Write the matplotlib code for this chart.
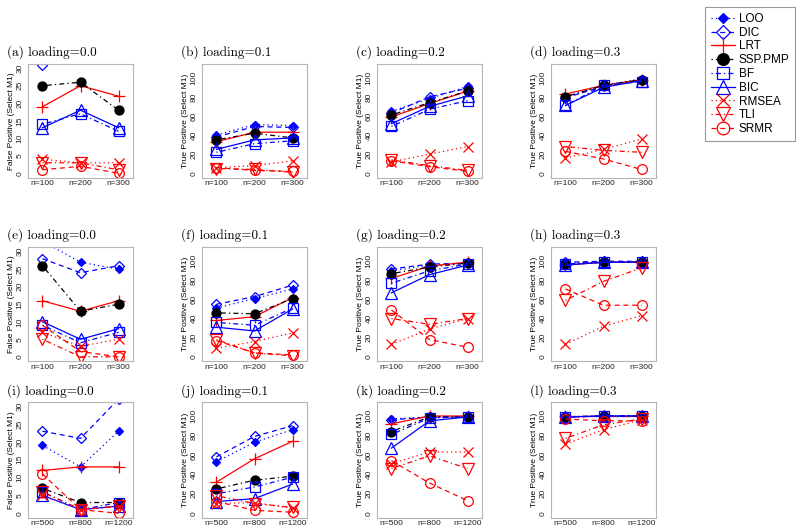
#!/usr/bin/env python
"""Model selection rates (FP / TP) for nine criteria across loadings and sample sizes."""

import matplotlib

matplotlib.use("Agg")
import matplotlib.pyplot as plt
from matplotlib.lines import Line2D

W_PX, H_PX = 800, 532

METHODS = ["LOO", "DIC", "LRT", "SSP.PMP", "BF", "BIC", "RMSEA", "TLI", "SRMR"]
N_SMALL = ["n=100", "n=200", "n=300"]
N_LARGE = ["n=500", "n=800", "n=1200"]
TITLES = [
    "(a) loading=0.0", "(b) loading=0.1", "(c) loading=0.2", "(d) loading=0.3",
    "(e) loading=0.0", "(f) loading=0.1", "(g) loading=0.2", "(h) loading=0.3",
    "(i) loading=0.0", "(j) loading=0.1", "(k) loading=0.2", "(l) loading=0.3",
]

# rows follow METHODS order: LOO, DIC, LRT, SSP.PMP, BF, BIC, RMSEA, TLI, SRMR
PANEL_A = [[38, 40, 36], [31, 35, 33], [19, 25, 22], [25, 26, 18], [14, 17, 12],
           [13, 18, 13], [4, 3, 3], [3, 3, 1], [1, 2, 0]]
PANEL_B = [[40, 51, 50], [38, 49, 48], [33, 43, 43], [35, 42, 37], [22, 31, 34],
           [25, 35, 37], [6, 8, 13], [5, 4, 1], [6, 3, 2]]
PANEL_C = [[65, 78, 91], [63, 80, 89], [59, 73, 86], [61, 74, 86], [49, 67, 76],
           [52, 70, 81], [12, 20, 28], [14, 8, 3], [13, 7, 2]]
PANEL_D = [[80, 92, 99], [79, 91, 98], [83, 92, 98], [80, 92, 98], [71, 92, 96],
           [71, 90, 97], [16, 25, 36], [28, 24, 22], [23, 15, 4]]
PANEL_E = [[33, 27, 25], [28, 24, 26], [16, 13, 16], [26, 13, 15], [9, 4, 7],
           [10, 5, 8], [7, 3, 5], [5, 0, 0], [9, 1.5, 0]]
PANEL_F = [[51, 61, 71], [55, 63, 75], [38, 42, 62], [46, 45, 61], [36, 33, 51],
           [31, 27, 50], [9, 16, 25], [18, 4, 1], [17, 4, 2]]
PANEL_G = [[90, 96, 98], [92, 97, 98], [82, 95, 99], [87, 94, 98], [77, 90, 97],
           [67, 86, 96], [13, 29, 40], [40, 34, 40], [49, 18, 10]]
PANEL_H = [[98, 99, 99], [99, 100, 100], [96, 99, 99], [97, 99, 99], [97, 99, 99],
           [96, 99, 99], [13, 32, 43], [59, 79, 93], [71, 54, 54]]
PANEL_I = [[19, 13, 23], [23, 21, 32], [12, 13, 13], [7, 3, 3], [6, 1, 3],
           [5, 1, 2], [5, 1, 2], [6, 1, 2], [11, 1, 0]]
PANEL_J = [[53, 73, 86], [58, 79, 90], [32, 56, 74], [25, 34, 38], [20, 27, 37],
           [12, 15, 30], [10, 11, 5], [18, 10, 6], [12, 3, 1]]
PANEL_K = [[97, 99, 99], [96, 99, 99], [92, 100, 100], [84, 99, 99], [81, 98, 99],
           [67, 95, 99], [51, 63, 63], [46, 59, 46], [54, 31, 13]]
PANEL_L = [[100, 100, 100], [99, 100, 100], [100, 100, 100], [99, 100, 100], [99, 100, 100],
           [99, 100, 100], [71, 86, 96], [77, 91, 97], [97, 95, 95]]

PANELS = [PANEL_A, PANEL_B, PANEL_C, PANEL_D, PANEL_E, PANEL_F,
          PANEL_G, PANEL_H, PANEL_I, PANEL_J, PANEL_K, PANEL_L]

BLUE, RED, BLACK = "#0000ff", "#ff0000", "#000000"
DOT = (0, (1, 2.5))
DASH = (0, (4, 3))
DOTDASH = (0, (1, 2.5, 4, 2.5))

STYLES = {
    "LOO": dict(color=BLUE, marker="D", ms=4.2, mfc=BLUE, ls=DOT),
    "DIC": dict(color=BLUE, marker="D", ms=5.5, mfc="none", ls=DASH),
    "LRT": dict(color=RED, marker="+", ms=9, mfc=RED, ls="-"),
    "SSP.PMP": dict(color=BLACK, marker="o", ms=6.5, mfc=BLACK, ls=DOTDASH),
    "BF": dict(color=BLUE, marker="s", ms=6.5, mfc="none", ls=DOTDASH),
    "BIC": dict(color=BLUE, marker="^", ms=8, mfc="none", ls="-"),
    "RMSEA": dict(color=RED, marker="x", ms=7, mfc=RED, ls=DOT),
    "TLI": dict(color=RED, marker="v", ms=8, mfc="none", ls=DOTDASH),
    "SRMR": dict(color=RED, marker="o", ms=7, mfc="none", ls=DASH),
}

COL_LEFT = [28, 202, 377, 551]
ROW_TOP = [64, 247.5, 402]
ROW_H = [113.5, 113.5, 115.5]
AX_W = 105
TITLE_Y = [52, 235, 391]

TICK_FONT = "Liberation Sans"


def px_rect(left, top, width, height):
    return [left / W_PX, 1 - (top + height) / H_PX, width / W_PX, height / H_PX]


def draw_panel(fig, idx):
    row, col = divmod(idx, 4)
    ax = fig.add_axes(px_rect(COL_LEFT[col], ROW_TOP[row], AX_W, ROW_H[row]))
    values = PANELS[idx]
    x = [1, 2, 3]
    for name, ys in zip(METHODS, values):
        st = STYLES[name]
        ax.plot(x, ys, color=st["color"], ls=st["ls"], lw=0.9, marker=st["marker"],
                ms=st["ms"], mfc=st["mfc"], mec=st["color"], mew=0.9)

    false_pos = col == 0
    if false_pos:
        ax.set_ylim(-1.2, 31.2)
        ax.set_yticks([0, 5, 10, 15, 20, 25, 30])
        ylabel = "False Positive (Select M1)"
    else:
        ax.set_ylim(-4.4, 114.4)
        ax.set_yticks([0, 20, 40, 60, 80, 100])
        ylabel = "True Positive (Select M1)"
    ax.set_xlim(0.62, 3.38)
    ax.set_xticks(x)
    ax.set_xticklabels(N_LARGE if row == 2 else N_SMALL)
    ax.tick_params(axis="both", length=0, labelsize=6, colors="#222222")
    ax.tick_params(axis="y", pad=3)
    ax.tick_params(axis="x", pad=2)
    for lab in ax.get_yticklabels():
        lab.set_rotation(90)
        lab.set_va("center")
        lab.set_family(TICK_FONT)
    for lab in ax.get_xticklabels():
        lab.set_family(TICK_FONT)
    ax.set_ylabel(ylabel, fontsize=6, family=TICK_FONT, labelpad=1.5)
    for spine in ax.spines.values():
        spine.set_color("#b5b5b5")
        spine.set_linewidth(0.8)

    fig.text((COL_LEFT[col] - 21) / W_PX, 1 - TITLE_Y[row] / H_PX, TITLES[idx],
             family="cmr10", fontsize=9.5, ha="left", va="center")
    return ax


def main():
    fig = plt.figure(figsize=(W_PX / 100, H_PX / 100), dpi=100)
    for idx in range(12):
        draw_panel(fig, idx)

    handles = []
    for name in METHODS:
        st = STYLES[name]
        handles.append(Line2D([0], [0], color=st["color"], ls=st["ls"], lw=0.9,
                              marker=st["marker"], ms=st["ms"] * 1.3, mfc=st["mfc"],
                              mec=st["color"], mew=0.9))
    leg = fig.legend(handles, METHODS, loc="upper left",
                     bbox_to_anchor=(705 / W_PX, 1 - 7 / H_PX), borderaxespad=0,
                     prop={"family": TICK_FONT, "size": 8.5}, handlelength=2.0,
                     handletextpad=0.35, labelspacing=0.15, borderpad=0.5,
                     fancybox=False, framealpha=1)
    leg.get_frame().set_edgecolor("#999999")
    leg.get_frame().set_linewidth(0.8)

    fig.savefig("out.png", dpi=100)
    plt.close(fig)


if __name__ == "__main__":
    main()
